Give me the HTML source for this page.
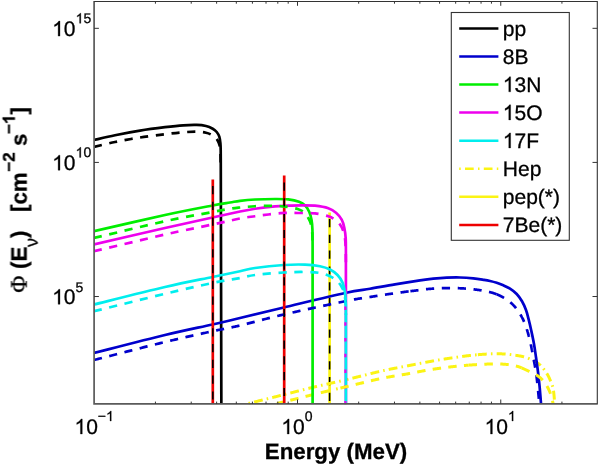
<!DOCTYPE html><html><head><meta charset="utf-8"><style>
html,body{margin:0;padding:0;background:#fff}
body{width:600px;height:464px;position:relative;overflow:hidden;font-family:"Liberation Sans",sans-serif;color:#000}
svg{will-change:transform}
</style></head><body>
<svg width="600" height="464" viewBox="0 0 600 464" style="position:absolute;left:0;top:0">
<defs><clipPath id="cp"><rect x="94.1" y="1.5" width="503.2" height="403.1"/></clipPath></defs>
<g clip-path="url(#cp)" fill="none" stroke-width="2.7" stroke-linejoin="round">
<path d="M329.6 212.5 V403.8" stroke="#fbf414"/>
<path d="M329.6 219 V403.8" stroke="#000" stroke-width="1.6" stroke-dasharray="8.2 7.6"/>
<path d="M277.00 403.50 L277.23 403.44 L277.48 403.38 L277.75 403.32 L278.04 403.25 L278.35 403.17 L278.68 403.09 L279.03 403.01 L279.39 402.92 L279.77 402.83 L280.17 402.73 L280.58 402.63 L281.00 402.53 L281.43 402.43 L281.88 402.32 L282.33 402.21 L282.80 402.10 L283.27 401.98 L283.75 401.87 L284.24 401.75 L284.73 401.63 L285.23 401.51 L285.73 401.39 L286.23 401.27 L286.74 401.15 L287.24 401.02 L287.75 400.90 L288.25 400.78 L288.76 400.66 L289.26 400.53 L289.75 400.41 L290.24 400.29 L290.73 400.18 L291.21 400.06 L291.68 399.94 L292.14 399.83 L292.60 399.72 L293.04 399.61 L293.47 399.50 L293.89 399.40 L294.30 399.30 L294.70 399.20 L295.09 399.10 L295.49 399.01 L295.88 398.91 L296.26 398.81 L296.65 398.72 L297.03 398.62 L297.41 398.53 L297.78 398.43 L298.16 398.34 L298.53 398.24 L298.90 398.15 L299.27 398.06 L299.64 397.96 L300.00 397.87 L300.37 397.78 L300.73 397.69 L301.09 397.60 L301.45 397.50 L301.81 397.41 L302.17 397.32 L302.53 397.23 L302.89 397.14 L303.24 397.05 L303.60 396.96 L303.96 396.87 L304.32 396.78 L304.67 396.69 L305.03 396.60 L305.39 396.51 L305.74 396.42 L306.10 396.33 L306.46 396.24 L306.82 396.14 L307.18 396.05 L307.54 395.96 L307.90 395.87 L308.27 395.78 L308.63 395.69 L309.00 395.60 L309.37 395.51 L309.73 395.42 L310.09 395.33 L310.44 395.24 L310.79 395.15 L311.14 395.07 L311.49 394.98 L311.83 394.90 L312.18 394.81 L312.52 394.73 L312.86 394.64 L313.20 394.56 L313.54 394.47 L313.88 394.39 L314.22 394.30 L314.56 394.22 L314.90 394.14 L315.25 394.05 L315.59 393.97 L315.94 393.88 L316.29 393.80 L316.64 393.71 L316.99 393.62 L317.34 393.54 L317.70 393.45 L318.07 393.36 L318.43 393.27 L318.80 393.18 L319.18 393.09 L319.56 393.00 L319.95 392.90 L320.34 392.81 L320.73 392.71 L321.14 392.61 L321.55 392.52 L321.96 392.42 L322.39 392.31 L322.82 392.21 L323.25 392.11 L323.70 392.00 L324.16 391.89 L324.62 391.78 L325.10 391.67 L325.59 391.55 L326.09 391.43 L326.60 391.31 L327.11 391.19 L327.64 391.07 L328.17 390.94 L328.71 390.82 L329.25 390.69 L329.80 390.56 L330.36 390.43 L330.92 390.30 L331.48 390.17 L332.05 390.03 L332.62 389.90 L333.19 389.77 L333.76 389.63 L334.33 389.50 L334.90 389.37 L335.48 389.23 L336.05 389.10 L336.62 388.97 L337.18 388.83 L337.75 388.70" stroke="#fbf414" stroke-width="3" stroke-dasharray="6.43 7.26 8.44 7.27 8.45 7.27 8.44 7.26 8.57 2000.00"/>
<path d="M247.00 403.80 L247.15 403.76 L247.30 403.72 L247.47 403.68 L247.64 403.64 L247.83 403.59 L248.02 403.55 L248.23 403.50 L248.44 403.44 L248.66 403.39 L248.89 403.33 L249.12 403.27 L249.37 403.21 L249.62 403.15 L249.88 403.09 L250.14 403.02 L250.41 402.95 L250.69 402.88 L250.98 402.81 L251.27 402.74 L251.56 402.67 L251.86 402.59 L252.17 402.52 L252.48 402.44 L252.80 402.36 L253.12 402.28 L253.44 402.20 L253.77 402.12 L254.11 402.04 L254.44 401.96 L254.78 401.87 L255.12 401.79 L255.47 401.70 L255.82 401.61 L256.17 401.53 L256.52 401.44 L256.87 401.35 L257.23 401.27 L257.58 401.18 L257.94 401.09 L258.30 401.00 L258.66 400.91 L259.03 400.82 L259.41 400.73 L259.79 400.63 L260.17 400.54 L260.57 400.44 L260.97 400.34 L261.37 400.24 L261.78 400.14 L262.19 400.04 L262.61 399.94 L263.03 399.83 L263.46 399.73 L263.89 399.62 L264.33 399.51 L264.76 399.41 L265.20 399.30 L265.65 399.19 L266.09 399.08 L266.54 398.97 L267.00 398.86 L267.45 398.75 L267.90 398.63 L268.36 398.52 L268.82 398.41 L269.28 398.29 L269.74 398.18 L270.20 398.07 L270.66 397.95 L271.12 397.84 L271.58 397.72 L272.05 397.61 L272.51 397.50 L272.97 397.38 L273.43 397.27 L273.88 397.15 L274.34 397.04 L274.80 396.93 L275.25 396.81 L275.70 396.70 L276.15 396.59 L276.60 396.47 L277.06 396.36 L277.51 396.25 L277.97 396.13 L278.42 396.02 L278.88 395.90 L279.34 395.79 L279.80 395.67 L280.26 395.55 L280.73 395.44 L281.19 395.32 L281.65 395.20 L282.12 395.08 L282.58 394.97 L283.05 394.85 L283.52 394.73 L283.98 394.61 L284.45 394.49 L284.92 394.38 L285.39 394.26 L285.86 394.14 L286.33 394.02 L286.80 393.90 L287.26 393.78 L287.73 393.66 L288.20 393.54 L288.67 393.42 L289.14 393.30 L289.61 393.18 L290.08 393.07 L290.55 392.95 L291.02 392.83 L291.49 392.71 L291.96 392.59 L292.43 392.47 L292.90 392.35 L293.37 392.24 L293.83 392.12 L294.30 392.00 L294.77 391.88 L295.23 391.76 L295.70 391.65 L296.17 391.53 L296.64 391.41 L297.12 391.29 L297.59 391.17 L298.06 391.05 L298.53 390.93 L299.01 390.81 L299.48 390.69 L299.96 390.56 L300.43 390.44 L300.91 390.32 L301.38 390.20 L301.85 390.08 L302.33 389.96 L302.80 389.84 L303.28 389.72 L303.75 389.60 L304.22 389.48 L304.70 389.36 L305.17 389.24 L305.64 389.12 L306.11 389.00 L306.58 388.89 L307.04 388.77 L307.51 388.65 L307.98 388.53 L308.44 388.42 L308.91 388.30 L309.37 388.19 L309.83 388.07 L310.29 387.96 L310.74 387.85 L311.20 387.74 L311.65 387.63 L312.10 387.52 L312.55 387.41 L313.00 387.30 L313.45 387.19 L313.89 387.09 L314.33 386.98 L314.78 386.88 L315.22 386.77 L315.66 386.67 L316.10 386.56 L316.54 386.46 L316.98 386.36 L317.42 386.26 L317.85 386.16 L318.29 386.06 L318.72 385.96 L319.16 385.86 L319.59 385.76 L320.02 385.66 L320.45 385.56 L320.88 385.46 L321.30 385.37 L321.73 385.27 L322.16 385.17 L322.58 385.08 L323.00 384.98 L323.43 384.89 L323.85 384.79 L324.27 384.70 L324.68 384.60 L325.10 384.51 L325.52 384.41 L325.93 384.32 L326.34 384.23 L326.76 384.14 L327.17 384.04 L327.57 383.95 L327.98 383.86 L328.39 383.77 L328.79 383.67 L329.20 383.58 L329.60 383.49 L330.00 383.40 L330.40 383.31 L330.80 383.22 L331.19 383.13 L331.58 383.04 L331.97 382.95 L332.36 382.87 L332.74 382.78 L333.13 382.69 L333.51 382.61 L333.89 382.52 L334.27 382.44 L334.65 382.35 L335.02 382.27 L335.40 382.18 L335.77 382.10 L336.14 382.02 L336.52 381.94 L336.89 381.85 L337.26 381.77 L337.62 381.69 L337.99 381.61 L338.36 381.52 L338.73 381.44 L339.10 381.36 L339.46 381.27 L339.83 381.19 L340.20 381.11 L340.56 381.03 L340.93 380.94 L341.30 380.86 L341.66 380.78 L342.03 380.69 L342.40 380.61 L342.77 380.52 L343.14 380.44 L343.51 380.35 L343.88 380.26 L344.25 380.18" stroke="#fbf414" stroke-width="3" stroke-dasharray="0.00 1.62 1.57 4.12 8.84 4.12 1.57 4.12 8.84 4.13 1.57 4.13 8.84 4.13 1.57 4.12 8.84 4.12 1.57 4.12 8.83 4.12 1.57 2000.00"/>
<path d="M344.63 380.09 L345.00 380.00 L345.37 379.91 L345.74 379.82 L346.10 379.74 L346.46 379.65 L346.82 379.57 L347.17 379.48 L347.52 379.40 L347.87 379.31 L348.21 379.23 L348.56 379.14 L348.90 379.06 L349.24 378.98 L349.58 378.89 L349.92 378.81 L350.26 378.72 L350.60 378.64 L350.94 378.55 L351.29 378.47 L351.63 378.38 L351.98 378.29 L352.33 378.21 L352.69 378.12 L353.04 378.03 L353.40 377.94 L353.77 377.85 L354.14 377.75 L354.51 377.66 L354.89 377.57 L355.28 377.47 L355.67 377.37 L356.06 377.27 L356.47 377.17 L356.88 377.07 L357.30 376.97 L357.73 376.86 L358.16 376.75 L358.61 376.64 L359.06 376.53 L359.53 376.42 L360.00 376.30 L360.48 376.18 L360.98 376.06 L361.48 375.93 L361.99 375.81 L362.51 375.68 L363.04 375.54 L363.58 375.41 L364.13 375.27 L364.68 375.13 L365.24 374.99 L365.80 374.85 L366.38 374.70 L366.95 374.56 L367.54 374.41 L368.13 374.26 L368.72 374.11 L369.31 373.96 L369.91 373.81 L370.52 373.66 L371.12 373.51 L371.73 373.35 L372.35 373.20 L372.96 373.05 L373.57 372.90 L374.19 372.74 L374.81 372.59 L375.42 372.44 L376.04 372.29 L376.66 372.14 L377.27 371.99 L377.89 371.85 L378.50 371.70 L379.11 371.56 L379.72 371.41 L380.33 371.27 L380.93 371.13 L381.53 371.00 L382.12 370.86 L382.71 370.73 L383.30 370.60 L383.88 370.47 L384.47 370.35 L385.05 370.22 L385.64 370.10 L386.22 369.97 L386.81 369.85 L387.39 369.73 L387.98 369.61 L388.56 369.49 L389.15 369.37 L389.73 369.25 L390.32 369.14 L390.90 369.02 L391.49 368.90 L392.07 368.79 L392.66 368.68 L393.24 368.56 L393.83 368.45 L394.41 368.34 L395.00 368.23 L395.59 368.11 L396.17 368.00 L396.76 367.89 L397.34 367.78 L397.93 367.67 L398.51 367.56 L399.10 367.45 L399.68 367.34 L400.27 367.23 L400.85 367.12 L401.44 367.01 L402.02 366.90 L402.61 366.79 L403.19 366.67 L403.78 366.56 L404.36 366.45 L404.95 366.34 L405.53 366.23 L406.12 366.11 L406.70 366.00 L407.28 365.89 L407.87 365.77 L408.45 365.66 L409.03 365.54 L409.62 365.43 L410.20 365.31 L410.78 365.20 L411.37 365.08 L411.95 364.97 L412.53 364.85 L413.11 364.74 L413.70 364.62 L414.28 364.51 L414.86 364.39 L415.44 364.27 L416.03 364.16 L416.61 364.04 L417.19 363.93 L417.77 363.81 L418.36 363.70 L418.94 363.59 L419.52 363.47 L420.10 363.36 L420.68 363.24 L421.27 363.13 L421.85 363.02 L422.43 362.91 L423.01 362.80 L423.60 362.68 L424.18 362.57 L424.76 362.46 L425.34 362.35 L425.92 362.24 L426.51 362.14 L427.09 362.03 L427.67 361.92 L428.25 361.81 L428.84 361.71 L429.42 361.60 L430.00 361.50 L430.58 361.40 L431.16 361.29 L431.75 361.19 L432.33 361.09 L432.91 360.99 L433.49 360.88 L434.08 360.78 L434.66 360.68 L435.24 360.58 L435.82 360.48 L436.40 360.38 L436.99 360.28 L437.57 360.18 L438.15 360.08 L438.73 359.98 L439.32 359.89 L439.90 359.79 L440.48 359.69 L441.06 359.60 L441.64 359.50 L442.23 359.40 L442.81 359.31 L443.39 359.22 L443.97 359.12 L444.56 359.03 L445.14 358.94 L445.72 358.84 L446.30 358.75 L446.89 358.66 L447.47 358.57 L448.05 358.48 L448.63 358.39 L449.22 358.30 L449.80 358.21 L450.38 358.13 L450.97 358.04 L451.55 357.95 L452.13 357.87 L452.72 357.78 L453.30 357.70 L453.88 357.62 L454.47 357.53 L455.05 357.45 L455.64 357.37 L456.22 357.28 L456.81 357.20 L457.39 357.11 L457.98 357.03 L458.56 356.95 L459.15 356.87 L459.73 356.79 L460.32 356.70 L460.90 356.62 L461.49 356.54 L462.07 356.46 L462.66 356.38 L463.24 356.31 L463.83 356.23 L464.41 356.15 L465.00 356.08 L465.59 356.00 L466.17 355.93 L466.76 355.85 L467.34 355.78 L467.93 355.71 L468.51 355.64 L469.10 355.57 L469.68 355.50 L470.27 355.44 L470.85 355.37 L471.44 355.31 L472.02 355.24 L472.61 355.18 L473.19 355.12 L473.78 355.07 L474.36 355.01 L474.95 354.95 L475.53 354.90 L476.12 354.85 L476.70 354.80 L477.28 354.75 L477.87 354.70" stroke="#fbf414" stroke-width="3" stroke-dasharray="0.00 2.36 1.57 4.12 8.84 4.12 1.57 4.13 8.84 4.12 1.57 4.12 8.83 4.12 1.57 4.12 8.83 4.12 1.57 4.12 8.83 4.12 1.57 4.12 8.84 4.13 1.57 4.13 8.85 4.14 1.58 2000.00"/>
<path d="M477.87 354.70 L478.46 354.66 L479.05 354.61 L479.64 354.56 L480.23 354.52 L480.83 354.47 L481.42 354.43 L482.01 354.38 L482.61 354.34 L483.21 354.30 L483.80 354.26 L484.40 354.22 L484.99 354.18 L485.59 354.15 L486.19 354.11 L486.78 354.08 L487.38 354.04 L487.97 354.01 L488.56 353.98 L489.15 353.95 L489.75 353.93 L490.33 353.90 L490.92 353.88 L491.51 353.86 L492.09 353.84 L492.68 353.82 L493.26 353.80 L493.83 353.79 L494.41 353.78 L494.98 353.77 L495.55 353.76 L496.12 353.76 L496.68 353.76 L497.25 353.76 L497.80 353.76 L498.36 353.77 L498.91 353.78 L499.46 353.79 L500.00 353.80 L500.54 353.82 L501.09 353.84 L501.63 353.86 L502.18 353.89 L502.72 353.91 L503.27 353.95 L503.81 353.98 L504.36 354.02 L504.91 354.06 L505.45 354.10 L505.99 354.14 L506.54 354.19 L507.08 354.24 L507.61 354.29 L508.15 354.34 L508.68 354.40 L509.21 354.45 L509.74 354.51 L510.27 354.57 L510.79 354.63 L511.30 354.69 L511.82 354.76 L512.32 354.82 L512.83 354.89 L513.33 354.95 L513.82 355.02 L514.31 355.09 L514.79 355.16 L515.26 355.23 L515.73 355.30 L516.19 355.37 L516.65 355.44 L517.10 355.51 L517.54 355.58 L517.97 355.65 L518.39 355.72 L518.81 355.79 L519.21 355.86 L519.61 355.93 L520.00 356.00 L520.38 356.07 L520.75 356.14 L521.10 356.21 L521.45 356.28 L521.79 356.34 L522.12 356.41 L522.44 356.48 L522.76 356.55 L523.06 356.62 L523.36 356.69 L523.65 356.76 L523.94 356.84 L524.22 356.91 L524.49 356.98 L524.76 357.06 L525.02 357.13 L525.27 357.21 L525.53 357.28 L525.77 357.36 L526.02 357.44 L526.26 357.52 L526.50 357.60 L526.73 357.68 L526.97 357.76 L527.20 357.85 L527.43 357.93 L527.66 358.02 L527.89 358.11 L528.11 358.20 L528.34 358.29 L528.57 358.38 L528.80 358.48 L529.03 358.57 L529.26 358.67 L529.49 358.77 L529.73 358.87 L529.97 358.98 L530.21 359.08 L530.45 359.19 L530.70 359.30 L530.95 359.41 L531.20 359.52 L531.45 359.64 L531.70 359.75 L531.95 359.87 L532.20 359.99 L532.44 360.11 L532.69 360.23 L532.94 360.35 L533.18 360.47 L533.43 360.60 L533.67 360.72 L533.92 360.85 L534.16 360.98 L534.40 361.11 L534.65 361.24 L534.89 361.37 L535.13 361.51 L535.36 361.64 L535.60 361.78 L535.84 361.92 L536.07 362.06 L536.30 362.20 L536.53 362.35 L536.76 362.49 L536.99 362.64 L537.22 362.79 L537.45 362.94 L537.67 363.09 L537.89 363.25 L538.11 363.41 L538.33 363.56 L538.55 363.72 L538.76 363.89 L538.97 364.05 L539.18 364.22 L539.39 364.38 L539.60 364.55 L539.80 364.73 L540.00 364.90 L540.20 365.08 L540.40 365.26 L540.59 365.44 L540.79 365.63 L540.98 365.82 L541.17 366.01 L541.36 366.21 L541.55 366.41 L541.74 366.61 L541.92 366.81 L542.10 367.02 L542.29 367.23 L542.47 367.44 L542.64 367.65 L542.82 367.86 L543.00 368.08 L543.17 368.29 L543.34 368.51 L543.51 368.73 L543.68 368.95 L543.85 369.17 L544.01 369.39 L544.18 369.61 L544.34 369.83 L544.50 370.06 L544.66 370.28 L544.82 370.50 L544.97 370.72 L545.12 370.94 L545.28 371.16 L545.43 371.38 L545.57 371.60 L545.72 371.82 L545.87 372.03 L546.01 372.25 L546.15 372.46 L546.29 372.68 L546.43 372.89 L546.57 373.09 L546.70 373.30 L546.83 373.50 L546.96 373.71 L547.09 373.91 L547.22 374.12 L547.34 374.32 L547.46 374.52 L547.58 374.72 L547.70 374.93 L547.81 375.13 L547.92 375.33 L548.03 375.53 L548.14 375.73 L548.25 375.93 L548.36 376.13 L548.46 376.33 L548.56 376.53 L548.66 376.73 L548.76 376.93 L548.86 377.13 L548.96 377.33 L549.05 377.52 L549.15 377.72 L549.24 377.92 L549.33 378.12 L549.42 378.32 L549.51 378.52 L549.60 378.71 L549.69 378.91 L549.78 379.11 L549.86 379.31 L549.95 379.51 L550.03 379.71 L550.12 379.91 L550.20 380.10 L550.29 380.30 L550.37 380.50 L550.45 380.70 L550.53 380.90 L550.62 381.10 L550.70 381.30 L550.78 381.50 L550.86 381.69 L550.94 381.88 L551.02 382.07 L551.10 382.26 L551.18 382.44 L551.25 382.62 L551.33 382.80 L551.40 382.98 L551.48 383.15 L551.55 383.33 L551.62 383.50 L551.69 383.68 L551.76 383.85 L551.83 384.03 L551.90 384.20 L551.97 384.38 L552.03 384.55 L552.10 384.73 L552.16 384.91 L552.23 385.09 L552.29 385.28 L552.35 385.46 L552.41 385.65 L552.47 385.85 L552.53 386.04 L552.59 386.24 L552.65 386.44 L552.71 386.65 L552.77 386.86 L552.82 387.08 L552.88 387.30 L552.93 387.53 L552.99 387.76 L553.04 388.00 L553.09 388.25 L553.15 388.50 L553.20 388.76 L553.25 389.03 L553.30 389.30 L553.35 389.59 L553.40 389.89 L553.45 390.20 L553.49 390.53 L553.54 390.88 L553.59 391.23 L553.63 391.60 L553.68 391.97 L553.72 392.35 L553.77 392.75 L553.81 393.15 L553.85 393.55 L553.89 393.96 L553.93 394.38 L553.97 394.79 L554.01 395.22 L554.05 395.64 L554.09 396.06 L554.13 396.48 L554.16 396.90 L554.20 397.32 L554.23 397.73 L554.27 398.14 L554.30 398.54 L554.33 398.94 L554.36 399.33 L554.39 399.72 L554.42 400.09 L554.45 400.45 L554.48 400.80 L554.50 401.14 L554.53 401.47 L554.55 401.78 L554.58 402.08 L554.60 402.36 L554.62 402.63 L554.64 402.87 L554.66 403.10 L554.68 403.31 L554.70 403.50" stroke="#fbf414" stroke-width="3" stroke-dasharray="8.90 4.17 1.59 4.19 8.94 4.14 1.57 4.13 8.83 4.15 1.60 4.18 8.93 4.19 1.59 4.16 8.94 4.19 1.58 4.12 8.87 4.15 1.60 2000.00"/>
<path d="M94.00 140.00 C97.50 139.20 107.33 136.77 115.00 135.20 C122.67 133.63 131.67 131.93 140.00 130.60 C148.33 129.27 157.78 128.08 165.00 127.20 C172.22 126.32 178.02 125.68 183.30 125.30 C188.58 124.92 192.92 124.78 196.70 124.90 C200.48 125.02 203.33 125.37 206.00 126.00 C208.67 126.63 210.92 127.70 212.70 128.70 C214.48 129.70 215.60 130.67 216.70 132.00 C217.80 133.33 218.68 134.82 219.30 136.70 C219.92 138.58 220.17 141.08 220.40 143.30 C220.63 145.52 220.63 145.55 220.70 150.00 C220.77 154.45 220.78 166.67 220.80 170.00 L221.35 403.8" stroke="#000"/>
<path d="M94.00 353.00 C105.83 350.00 145.25 339.75 165.00 335.00 C184.75 330.25 200.00 327.33 212.50 324.50 C225.00 321.67 228.12 320.83 240.00 318.00 C251.88 315.17 266.25 311.67 283.75 307.50 C301.25 303.33 330.62 296.12 345.00 293.00 C359.38 289.88 361.67 290.20 370.00 288.75 C378.33 287.30 386.67 285.69 395.00 284.30 C403.33 282.91 413.62 281.33 420.00 280.40 C426.38 279.47 428.85 279.15 433.30 278.70 C437.75 278.25 442.25 277.90 446.70 277.70 C451.15 277.50 455.57 277.38 460.00 277.50 C464.43 277.62 469.30 278.00 473.30 278.40 C477.30 278.80 481.22 279.47 484.00 279.90 C486.78 280.33 487.88 280.52 490.00 281.00 C492.12 281.48 494.48 282.08 496.70 282.80 C498.92 283.52 501.08 284.32 503.30 285.30 C505.52 286.28 507.77 287.25 510.00 288.70 C512.23 290.15 514.70 291.90 516.70 294.00 C518.70 296.10 520.45 298.63 522.00 301.30 C523.55 303.97 524.88 306.95 526.00 310.00 C527.12 313.05 527.82 316.15 528.70 319.60 C529.58 323.05 530.42 326.63 531.30 330.70 C532.18 334.77 533.22 339.57 534.00 344.00 C534.78 348.43 535.33 352.63 536.00 357.30 C536.67 361.97 537.40 367.10 538.00 372.00 C538.60 376.90 539.10 381.45 539.60 386.70 C540.10 391.95 540.77 400.70 541.00 403.50" stroke="#0000cc"/>
<path d="M94.00 231.25 C105.83 228.54 145.25 219.29 165.00 215.00 C184.75 210.71 201.67 207.58 212.50 205.50 C223.33 203.42 225.42 203.28 230.00 202.50 C234.58 201.72 235.83 201.30 240.00 200.80 C244.17 200.30 249.17 199.80 255.00 199.50 C260.83 199.20 269.45 199.02 275.00 199.00 C280.55 198.98 284.30 198.95 288.30 199.40 C292.30 199.85 296.15 200.65 299.00 201.70 C301.85 202.75 303.70 204.03 305.40 205.70 C307.10 207.37 308.18 209.37 309.20 211.70 C310.22 214.03 310.97 216.82 311.50 219.70 C312.03 222.58 312.22 224.78 312.40 229.00 C312.58 233.22 312.57 242.33 312.60 245.00 L312.60 403.80" stroke="#00ee00"/>
<path d="M94.00 244.50 C105.83 241.75 145.25 232.50 165.00 228.00 C184.75 223.50 200.00 220.25 212.50 217.50 C225.00 214.75 232.92 212.96 240.00 211.50 C247.08 210.04 249.17 209.62 255.00 208.75 C260.83 207.88 269.45 206.81 275.00 206.30 C280.55 205.79 283.85 205.87 288.30 205.70 C292.75 205.53 297.25 205.30 301.70 205.30 C306.15 205.30 310.57 205.20 315.00 205.70 C319.43 206.20 324.75 207.08 328.30 208.30 C331.85 209.52 334.07 211.10 336.30 213.00 C338.53 214.90 340.37 217.25 341.70 219.70 C343.03 222.15 343.63 224.60 344.30 227.70 C344.97 230.80 345.43 233.75 345.70 238.30 C345.97 242.85 345.87 252.22 345.90 255.00 L345.90 403.80" stroke="#ee00ee"/>
<path d="M94.00 304.50 C105.83 301.58 145.25 291.58 165.00 287.00 C184.75 282.42 200.00 279.62 212.50 277.00 C225.00 274.38 232.92 272.75 240.00 271.25 C247.08 269.75 247.71 269.04 255.00 268.00 C262.29 266.96 275.42 265.57 283.75 265.00 C292.08 264.43 298.96 264.39 305.00 264.60 C311.04 264.81 315.83 265.43 320.00 266.25 C324.17 267.07 327.08 268.04 330.00 269.50 C332.92 270.96 335.42 272.83 337.50 275.00 C339.58 277.17 341.25 279.58 342.50 282.50 C343.75 285.42 344.43 288.75 345.00 292.50 C345.57 296.25 345.75 302.92 345.90 305.00 L345.90 403.80" stroke="#00eeee"/>
<path d="M212.8 179.5 V403.8" stroke="#ee0000"/>
<path d="M284.2 175.5 V403.8" stroke="#ee0000"/>
<path d="M94.00 147.00 C97.50 146.17 107.33 143.58 115.00 142.00 C122.67 140.42 131.67 138.80 140.00 137.50 C148.33 136.20 157.78 135.07 165.00 134.20 C172.22 133.33 178.02 132.72 183.30 132.30 C188.58 131.88 192.92 131.63 196.70 131.70 C200.48 131.77 203.57 132.20 206.00 132.70 C208.43 133.20 209.63 133.82 211.30 134.70 C212.97 135.58 214.77 136.67 216.00 138.00 C217.23 139.33 218.03 141.15 218.70 142.70 C219.37 144.25 219.70 145.58 220.00 147.30 C220.30 149.02 220.37 149.22 220.50 153.00 C220.63 156.78 220.75 167.17 220.80 170.00" stroke="#000" stroke-dasharray="8.15 7.56 8.14 7.55 8.14 7.56 8.15 7.57 8.16 7.58 8.18 7.60 8.24 7.63 8.19 7.64 8.22 7.61 8.27 7.68 8.30 2000.00"/>
<path d="M94.00 360.00 L94.94 359.76 L95.98 359.50 L97.11 359.21 L98.33 358.90 L99.64 358.56 L101.03 358.21 L102.49 357.83 L104.03 357.44 L105.64 357.02 L107.31 356.60 L109.04 356.15 L110.82 355.69 L112.66 355.22 L114.54 354.74 L116.46 354.25 L118.42 353.75 L120.41 353.24 L122.43 352.72 L124.47 352.20 L126.53 351.67 L128.61 351.14 L130.70 350.61 L132.79 350.08 L134.88 349.54 L136.98 349.01 L139.06 348.48 L141.13 347.95 L143.19 347.43 L145.23 346.92 L147.24 346.41 L149.22 345.91 L151.17 345.42 L153.08 344.95 L154.94 344.48 L156.76 344.03 L158.53 343.59 L160.24 343.16 L161.90 342.76 L163.48 342.37 L165.00 342.00 L166.47 341.64 L167.93 341.29 L169.37 340.95 L170.79 340.61 L172.20 340.28 L173.59 339.95 L174.96 339.62 L176.32 339.31 L177.67 338.99 L179.00 338.69 L180.31 338.38 L181.61 338.08 L182.89 337.79 L184.16 337.50 L185.41 337.22 L186.65 336.94 L187.88 336.66 L189.09 336.39 L190.29 336.12 L191.47 335.86 L192.64 335.60 L193.79 335.34 L194.94 335.09 L196.07 334.84 L197.19 334.60 L198.29 334.35 L199.38 334.12 L200.46 333.88 L201.53 333.65 L202.58 333.42 L203.62 333.19 L204.66 332.96 L205.68 332.74 L206.68 332.52 L207.68 332.30 L208.67 332.09 L209.64 331.88 L210.60 331.67 L211.56 331.46 L212.50 331.25 L213.42 331.05 L214.31 330.86 L215.16 330.67 L215.99 330.50 L216.78 330.33 L217.55 330.17 L218.30 330.01 L219.02 329.86 L219.72 329.72 L220.40 329.58 L221.06 329.45 L221.71 329.32 L222.34 329.20 L222.96 329.08 L223.56 328.96 L224.16 328.84 L224.75 328.73 L225.33 328.61 L225.91 328.50 L226.48 328.39 L227.06 328.28 L227.63 328.17 L228.21 328.05 L228.79 327.94 L229.38 327.82 L229.97 327.70 L230.57 327.58 L231.19 327.45 L231.81 327.32 L232.45 327.19 L233.11 327.05 L233.78 326.91 L234.47 326.76 L235.19 326.60 L235.92 326.44 L236.68 326.27 L237.47 326.09 L238.28 325.90 L239.13 325.70 L240.00 325.50 L240.90 325.29 L241.80 325.07 L242.71 324.85 L243.64 324.62 L244.57 324.39 L245.51 324.16 L246.47 323.92 L247.43 323.67 L248.40 323.42 L249.38 323.17 L250.38 322.92 L251.38 322.66 L252.39 322.39 L253.41 322.13 L254.45 321.86 L255.49 321.59 L256.54 321.31 L257.61 321.03 L258.68 320.75 L259.77 320.47 L260.86 320.18 L261.97 319.90 L263.08 319.61 L264.21 319.31 L265.35 319.02 L266.50 318.73 L267.66 318.43 L268.83 318.13 L270.01 317.83 L271.20 317.53 L272.40 317.23 L273.62 316.93 L274.85 316.63 L276.08 316.32 L277.33 316.02 L278.59 315.71 L279.86 315.41 L281.15 315.11 L282.44 314.80 L283.75 314.50 L285.08 314.19 L286.46 313.88 L287.88 313.56 L289.33 313.23 L290.82 312.89 L292.34 312.55 L293.88 312.20 L295.46 311.85 L297.06 311.49 L298.68 311.13 L300.32 310.77 L301.98 310.41 L303.65 310.04 L305.34 309.67 L307.03 309.30 L308.73 308.93 L310.43 308.56 L312.14 308.19 L313.85 307.82 L315.55 307.45 L317.24 307.09 L318.93 306.73 L320.61 306.37 L322.27 306.01 L323.92 305.66 L325.55 305.31 L327.15 304.97 L328.74 304.63 L330.30 304.30 L331.83 303.98 L333.32 303.67 L334.79 303.36 L336.22 303.06 L337.61 302.77 L338.96 302.49 L340.26 302.22 L341.52 301.96 L342.73 301.71 L343.89 301.47 L345.00 301.25 L346.06 301.04 L347.07 300.83 L348.04 300.64 L348.97 300.46 L349.86 300.29 L350.71 300.12 L351.53 299.96 L352.32 299.82 L353.07 299.68 L353.80 299.54 L354.49 299.42 L355.16 299.30 L355.81 299.19 L356.43 299.08 L357.03 298.98 L357.61 298.88 L358.17 298.79 L358.72 298.70 L359.25 298.62 L359.77 298.53 L360.27 298.46 L360.77 298.38 L361.26 298.31 L361.74 298.24 L362.22 298.17 L362.69 298.10 L363.17 298.03 L363.64 297.96 L364.12 297.89 L364.60 297.82 L365.09 297.75 L365.58 297.68 L366.08 297.60 L366.60 297.53 L367.12 297.45 L367.66 297.37 L368.22 297.28 L368.79 297.19 L369.39 297.10 L370.00 297.00 L370.62 296.90 L371.25 296.80 L371.88 296.70 L372.50 296.60 L373.12 296.50 L373.75 296.40 L374.38 296.30 L375.00 296.20 L375.63 296.10 L376.25 296.00 L376.88 295.91 L377.50 295.81 L378.13 295.71 L378.75 295.61 L379.38 295.52 L380.00 295.42 L380.62 295.32 L381.25 295.23 L381.88 295.13 L382.50 295.03 L383.12 294.94 L383.75 294.84 L384.38 294.75 L385.00 294.66 L385.62 294.56 L386.25 294.47 L386.88 294.37 L387.50 294.28 L388.12 294.19 L388.75 294.10 L389.38 294.01 L390.00 293.91 L390.62 293.82 L391.25 293.73 L391.88 293.64 L392.50 293.55 L393.12 293.46 L393.75 293.38 L394.38 293.29 L395.00 293.20 L395.63 293.11 L396.27 293.02 L396.91 292.94 L397.56 292.85 L398.22 292.76 L398.89 292.67 L399.56 292.58 L400.23 292.49 L400.91 292.40 L401.59 292.31 L402.27 292.22 L402.95 292.13 L403.63 292.04 L404.32 291.96 L405.00 291.87 L405.69 291.78 L406.37 291.69 L407.05 291.61 L407.72 291.52 L408.39 291.44 L409.06 291.35 L409.72 291.27 L410.38 291.19" stroke="#0000cc" stroke-dasharray="8.15 7.56 8.15 7.56 8.15 7.56 8.15 7.56 8.15 7.56 8.15 7.56 8.14 7.55 8.14 7.55 8.14 7.55 8.14 7.56 8.15 7.57 8.15 7.56 8.15 7.56 8.14 7.55 8.14 7.55 8.14 7.55 8.14 7.55 8.15 7.56 8.15 7.56 8.15 7.57 8.16 2000.00"/>
<path d="M410.38 291.19 L411.03 291.11 L411.67 291.03 L412.31 290.95 L412.93 290.87 L413.55 290.79 L414.16 290.72 L414.76 290.65 L415.34 290.57 L415.92 290.50 L416.48 290.43 L417.02 290.37 L417.56 290.30 L418.08 290.24 L418.58 290.17 L419.07 290.11 L419.54 290.06 L420.00 290.00 L420.44 289.95 L420.85 289.89 L421.25 289.84 L421.63 289.80 L421.99 289.75 L422.33 289.71 L422.66 289.66 L422.97 289.62 L423.27 289.59 L423.56 289.55 L423.83 289.51 L424.09 289.48 L424.35 289.44 L424.59 289.41 L424.83 289.38 L425.06 289.35 L425.28 289.32 L425.49 289.30 L425.70 289.27 L425.91 289.24 L426.12 289.22 L426.32 289.19 L426.52 289.17 L426.72 289.15 L426.93 289.13 L427.13 289.10 L427.34 289.08 L427.55 289.06 L427.77 289.04 L427.99 289.02 L428.21 289.00 L428.45 288.98 L428.69 288.95 L428.94 288.93 L429.21 288.91 L429.48 288.89 L429.76 288.87 L430.06 288.85 L430.37 288.82 L430.70 288.80 L431.04 288.78 L431.38 288.75 L431.73 288.73 L432.09 288.71 L432.45 288.68 L432.81 288.66 L433.18 288.64 L433.56 288.61 L433.94 288.59 L434.33 288.57 L434.72 288.54 L435.11 288.52 L435.51 288.50 L435.91 288.48 L436.31 288.46 L436.72 288.44 L437.13 288.42 L437.54 288.40 L437.95 288.38 L438.37 288.36 L438.79 288.34 L439.20 288.32 L439.62 288.30 L440.05 288.28 L440.47 288.27 L440.89 288.25 L441.31 288.24 L441.73 288.22 L442.15 288.21 L442.58 288.19 L443.00 288.18 L443.42 288.17 L443.83 288.16 L444.25 288.15 L444.66 288.14 L445.08 288.13 L445.49 288.12 L445.89 288.11 L446.30 288.11 L446.70 288.10 L447.10 288.10 L447.50 288.09 L447.90 288.09 L448.31 288.08 L448.71 288.08 L449.11 288.08 L449.52 288.08 L449.92 288.08 L450.33 288.08 L450.73 288.08 L451.14 288.08 L451.54 288.08 L451.95 288.08 L452.36 288.09 L452.76 288.09 L453.17 288.10 L453.57 288.10 L453.98 288.11 L454.38 288.11 L454.79 288.12 L455.19 288.13 L455.60 288.13 L456.00 288.14 L456.40 288.15 L456.80 288.16 L457.20 288.17 L457.60 288.19 L458.00 288.20 L458.40 288.21 L458.80 288.22 L459.19 288.24 L459.59 288.25 L459.98 288.27 L460.38 288.29 L460.77 288.30 L461.16 288.32 L461.54 288.34 L461.93 288.36 L462.32 288.38 L462.70 288.40 L463.08 288.42 L463.46 288.44 L463.85 288.47 L464.23 288.49 L464.61 288.52 L464.99 288.54 L465.37 288.57 L465.75 288.60 L466.13 288.62 L466.51 288.65 L466.89 288.68 L467.26 288.71 L467.64 288.75 L468.02 288.78 L468.39 288.81 L468.77 288.84 L469.14 288.88 L469.51 288.91 L469.88 288.95 L470.25 288.98 L470.62 289.02 L470.98 289.05 L471.35 289.09 L471.71 289.13 L472.08 289.17 L472.44 289.21 L472.80 289.25 L473.16 289.29 L473.51 289.33 L473.87 289.37 L474.22 289.41 L474.57 289.45 L474.92 289.49 L475.26 289.54 L475.61 289.58 L475.95 289.62 L476.29 289.67 L476.63 289.71 L476.97 289.76 L477.30 289.80 L477.63 289.85 L477.96 289.89 L478.30 289.94 L478.63 289.99 L478.96 290.04 L479.28 290.09 L479.61 290.14 L479.94 290.19 L480.27 290.24 L480.59 290.29 L480.91 290.34 L481.24 290.40 L481.56 290.45 L481.88 290.51 L482.19 290.56 L482.51 290.62 L482.82 290.67 L483.13 290.73 L483.44 290.79 L483.75 290.84 L484.06 290.90 L484.36 290.96 L484.66 291.02 L484.96 291.07 L485.25 291.13 L485.54 291.19 L485.83 291.25 L486.12 291.31 L486.40 291.37 L486.68 291.42 L486.96 291.48 L487.24 291.54 L487.51 291.60 L487.77 291.66 L488.04 291.71 L488.30 291.77 L488.55 291.83 L488.81 291.89 L489.06 291.94 L489.30 292.00 L489.54 292.06 L489.77 292.11 L490.00 292.17 L490.23 292.22 L490.45 292.28 L490.67 292.33 L490.88 292.39 L491.09 292.44 L491.29 292.49 L491.49 292.55 L491.69 292.60 L491.88 292.65 L492.07 292.71 L492.26 292.76 L492.45 292.82 L492.63 292.87 L492.81 292.92 L492.99 292.98 L493.16 293.03 L493.34 293.09 L493.51 293.14 L493.68 293.20 L493.85 293.25 L494.02 293.31 L494.19 293.37 L494.35 293.42 L494.52 293.48 L494.68 293.54 L494.85 293.60 L495.01 293.66 L495.18 293.72 L495.34 293.78 L495.51 293.84 L495.68 293.91 L495.84 293.97 L496.01 294.03 L496.18 294.10 L496.35 294.16 L496.53 294.23 L496.70 294.30" stroke="#0000cc" stroke-dasharray="8.16 7.57 8.20 7.64 8.27 7.68 8.23 7.59 8.16 7.55 8.20 2000.00"/>
<path d="M496.70 294.30 L496.87 294.37 L497.05 294.44 L497.22 294.51 L497.39 294.58 L497.56 294.65 L497.73 294.72 L497.90 294.79 L498.07 294.86 L498.24 294.93 L498.40 295.01 L498.57 295.08 L498.74 295.15 L498.90 295.23 L499.07 295.30 L499.23 295.38 L499.39 295.45 L499.56 295.53 L499.72 295.61 L499.88 295.68 L500.04 295.76 L500.21 295.84 L500.37 295.92 L500.53 296.00 L500.69 296.08 L500.85 296.17 L501.01 296.25 L501.18 296.33 L501.34 296.42 L501.50 296.50 L501.66 296.59 L501.82 296.67 L501.99 296.76 L502.15 296.85 L502.31 296.94 L502.48 297.03 L502.64 297.12 L502.80 297.22 L502.97 297.31 L503.13 297.40 L503.30 297.50 L503.47 297.60 L503.63 297.69 L503.80 297.79 L503.97 297.89 L504.14 297.99 L504.31 298.10 L504.48 298.20 L504.66 298.30 L504.83 298.41 L505.00 298.51 L505.17 298.62 L505.35 298.73 L505.52 298.84 L505.69 298.95 L505.87 299.06 L506.04 299.17 L506.21 299.28 L506.39 299.39 L506.56 299.51 L506.73 299.62 L506.90 299.73 L507.07 299.85 L507.25 299.96 L507.42 300.08 L507.59 300.20 L507.75 300.31 L507.92 300.43 L508.09 300.55 L508.26 300.67 L508.42 300.79 L508.59 300.91 L508.75 301.03 L508.91 301.15 L509.07 301.27 L509.23 301.39 L509.39 301.51 L509.54 301.63 L509.70 301.76 L509.85 301.88 L510.00 302.00 L510.15 302.12 L510.30 302.25 L510.44 302.37 L510.59 302.49 L510.73 302.61 L510.88 302.74 L511.02 302.86 L511.16 302.99 L511.30 303.11 L511.44 303.24 L511.58 303.36 L511.71 303.49 L511.85 303.61 L511.98 303.74 L512.12 303.87 L512.25 304.00 L512.38 304.12 L512.51 304.25 L512.64 304.38 L512.77 304.51 L512.90 304.64 L513.03 304.78 L513.16 304.91 L513.29 305.04 L513.42 305.17 L513.55 305.31 L513.67 305.45 L513.80 305.58 L513.92 305.72 L514.05 305.86 L514.18 306.00 L514.30 306.14 L514.43 306.28 L514.55 306.42 L514.68 306.57 L514.80 306.71 L514.93 306.86 L515.05 307.00 L515.18 307.15 L515.30 307.30 L515.43 307.45 L515.55 307.60 L515.68 307.76 L515.80 307.92 L515.93 308.08 L516.05 308.24 L516.18 308.40 L516.30 308.56 L516.43 308.73 L516.55 308.89 L516.67 309.06 L516.80 309.23 L516.92 309.40 L517.05 309.57 L517.17 309.74 L517.29 309.91 L517.41 310.09 L517.53 310.26 L517.65 310.43 L517.77 310.61 L517.89 310.78 L518.01 310.95 L518.13 311.13 L518.25 311.30 L518.37 311.48 L518.48 311.65 L518.60 311.82 L518.71 312.00 L518.83 312.17 L518.94 312.34 L519.05 312.51 L519.16 312.68 L519.27 312.85 L519.38 313.02 L519.48 313.19 L519.59 313.35 L519.69 313.52 L519.80 313.68 L519.90 313.84 L520.00 314.00 L520.10 314.16 L520.20 314.31 L520.29 314.46 L520.38 314.61 L520.47 314.75 L520.56 314.89 L520.65 315.03 L520.74 315.17 L520.82 315.31 L520.91 315.44 L520.99 315.57 L521.07 315.70 L521.15 315.83 L521.23 315.96 L521.31 316.09 L521.39 316.22 L521.46 316.36 L521.54 316.49 L521.62 316.62 L521.69 316.75 L521.77 316.88 L521.85 317.02 L521.92 317.16 L522.00 317.30 L522.07 317.44 L522.15 317.58 L522.23 317.73 L522.30 317.88 L522.38 318.03 L522.46 318.19 L522.54 318.35 L522.62 318.51 L522.70 318.68 L522.78 318.85 L522.86 319.03 L522.95 319.21 L523.03 319.40 L523.12 319.59 L523.21 319.79 L523.30 320.00 L523.39 320.21 L523.48 320.43 L523.58 320.64 L523.67 320.87 L523.77 321.09 L523.87 321.33 L523.97 321.56 L524.06 321.80 L524.16 322.04 L524.26 322.28 L524.37 322.53 L524.47 322.78 L524.57 323.04 L524.67 323.29 L524.78 323.55 L524.88 323.82 L524.98 324.08 L525.09 324.35 L525.19 324.62 L525.29 324.89 L525.40 325.17 L525.50 325.45 L525.61 325.73 L525.71 326.01 L525.81 326.29 L525.92 326.58 L526.02 326.86 L526.12 327.15 L526.22 327.44 L526.33 327.73 L526.43 328.02 L526.53 328.32 L526.63 328.61 L526.73 328.91 L526.82 329.21 L526.92 329.50 L527.02 329.80 L527.11 330.10 L527.21 330.40 L527.30 330.70 L527.39 331.00 L527.48 331.31 L527.58 331.61 L527.67 331.92 L527.76 332.24 L527.85 332.55 L527.94 332.87 L528.03 333.19 L528.12 333.52 L528.21 333.84 L528.30 334.17 L528.39 334.50 L528.48 334.83 L528.57 335.16 L528.65 335.50 L528.74 335.83 L528.83 336.17 L528.92 336.51 L529.00 336.85 L529.09 337.19 L529.17 337.53 L529.26 337.87 L529.34 338.21 L529.43 338.56 L529.51 338.90 L529.59 339.24 L529.68 339.58 L529.76 339.93 L529.84 340.27 L529.92 340.61 L530.00 340.96 L530.08 341.30 L530.16 341.64 L530.24 341.98 L530.32 342.32 L530.40 342.66 L530.47 343.00 L530.55 343.33 L530.62 343.67 L530.70 344.00 L530.77 344.33 L530.85 344.66 L530.92 344.99 L530.99 345.32 L531.06 345.65 L531.13 345.98 L531.20 346.30 L531.27 346.63 L531.34 346.96 L531.40 347.28 L531.47 347.61 L531.54 347.93 L531.60 348.25 L531.67 348.58 L531.73 348.90 L531.79 349.23 L531.86 349.55 L531.92 349.88 L531.98 350.20 L532.04 350.53 L532.11 350.86 L532.17 351.19 L532.23 351.51 L532.29 351.84 L532.35 352.17 L532.41 352.50 L532.48 352.84 L532.54 353.17 L532.60 353.51 L532.66 353.84 L532.72 354.18 L532.79 354.52 L532.85 354.86 L532.91 355.20 L532.98 355.55 L533.04 355.89 L533.10 356.24 L533.17 356.59 L533.23 356.94 L533.30 357.30 L533.37 357.66 L533.43 358.02 L533.50 358.38 L533.57 358.75 L533.64 359.12 L533.71 359.49 L533.78 359.86 L533.85 360.23 L533.92 360.61 L533.99 360.99 L534.06 361.37 L534.13 361.75 L534.21 362.13 L534.28 362.52 L534.35 362.90 L534.42 363.29 L534.49 363.68 L534.56 364.07 L534.64 364.45 L534.71 364.84 L534.78 365.23 L534.85 365.62 L534.92 366.01 L534.99 366.40 L535.06 366.79 L535.12 367.18 L535.19 367.57 L535.26 367.95 L535.33 368.34 L535.39 368.73 L535.46 369.11 L535.52 369.49 L535.59 369.88 L535.65 370.26 L535.71 370.63 L535.77 371.01 L535.83 371.39 L535.89 371.76 L535.94 372.13 L536.00 372.50 L536.05 372.87 L536.11 373.23 L536.16 373.59 L536.21 373.95 L536.26 374.31 L536.31 374.66 L536.36 375.01 L536.41 375.36 L536.45 375.71 L536.50 376.06 L536.54 376.41 L536.59 376.75 L536.63 377.10 L536.67 377.44 L536.72 377.78 L536.76 378.13 L536.80 378.47 L536.84 378.81 L536.88 379.16 L536.92 379.50 L536.96 379.84 L537.00 380.19 L537.04 380.53 L537.08 380.88 L537.11 381.23 L537.15 381.58 L537.19 381.93 L537.23 382.28 L537.27 382.63 L537.31 382.99 L537.34 383.35 L537.38 383.71 L537.42 384.07 L537.46 384.44 L537.50 384.81 L537.54 385.18 L537.58 385.55 L537.62 385.93 L537.66 386.31 L537.70 386.70 L537.74 387.09 L537.78 387.50 L537.83 387.92 L537.87 388.35 L537.92 388.79 L537.96 389.24 L538.01 389.70 L538.05 390.16 L538.10 390.63 L538.14 391.11 L538.19 391.59 L538.24 392.08 L538.28 392.57 L538.33 393.06 L538.38 393.55 L538.42 394.04 L538.47 394.53 L538.52 395.02 L538.56 395.50 L538.61 395.99 L538.65 396.47 L538.69 396.94 L538.74 397.41 L538.78 397.86 L538.82 398.32 L538.86 398.76 L538.90 399.19 L538.94 399.61 L538.98 400.02 L539.01 400.42 L539.05 400.80 L539.08 401.17 L539.12 401.53 L539.15 401.87 L539.18 402.19 L539.21 402.49 L539.23 402.77 L539.26 403.04 L539.28 403.28 L539.30 403.50" stroke="#0000cc" stroke-dasharray="8.24 7.64 8.27 7.63 8.24 7.65 8.17 7.56 8.14 7.55 8.14 7.56 8.17 7.59 8.18 2000.00"/>
<path d="M94.00 238.00 C105.83 235.21 145.25 225.58 165.00 221.25 C184.75 216.92 201.67 214.08 212.50 212.00 C223.33 209.92 225.42 209.50 230.00 208.75 C234.58 208.00 235.83 207.92 240.00 207.50 C244.17 207.08 250.00 206.52 255.00 206.25 C260.00 205.98 265.33 205.89 270.00 205.90 C274.67 205.91 278.38 205.78 283.00 206.30 C287.62 206.82 294.08 207.88 297.70 209.00 C301.32 210.12 302.90 211.45 304.70 213.00 C306.50 214.55 307.48 216.52 308.50 218.30 C309.52 220.08 310.18 221.42 310.80 223.70 C311.42 225.98 311.90 228.45 312.20 232.00 C312.50 235.55 312.53 242.83 312.60 245.00" stroke="#00ee00" stroke-dasharray="8.15 7.56 8.15 7.56 8.15 7.56 8.15 7.56 8.14 7.55 8.14 7.55 8.14 7.55 8.14 7.55 8.14 7.56 8.17 7.59 8.21 7.66 8.29 7.68 8.17 7.55 8.21 7.66 8.22 7.57 8.25 2000.00"/>
<path d="M94.00 251.25 C105.83 248.46 145.25 238.96 165.00 234.50 C184.75 230.04 200.00 227.17 212.50 224.50 C225.00 221.83 232.92 219.88 240.00 218.50 C247.08 217.12 248.28 217.13 255.00 216.25 C261.72 215.37 272.97 213.74 280.30 213.20 C287.63 212.66 293.22 212.97 299.00 213.00 C304.78 213.03 310.12 212.85 315.00 213.40 C319.88 213.95 324.97 215.25 328.30 216.30 C331.63 217.35 333.00 218.25 335.00 219.70 C337.00 221.15 338.97 223.23 340.30 225.00 C341.63 226.77 342.22 228.08 343.00 230.30 C343.78 232.52 344.55 235.02 345.00 238.30 C345.45 241.58 345.55 245.55 345.70 250.00 C345.85 254.45 345.87 262.50 345.90 265.00" stroke="#ee00ee" stroke-dasharray="8.15 7.56 8.15 7.56 8.15 7.56 8.15 7.56 8.14 7.55 8.14 7.55 8.14 7.55 8.14 7.55 8.14 7.55 8.14 7.56 8.16 7.57 8.16 7.58 8.23 7.68 8.29 7.68 8.18 7.56 8.22 7.66 8.25 7.57 8.21 7.66 8.28 2000.00"/>
<path d="M94.00 311.25 C105.83 308.33 145.25 298.46 165.00 293.75 C184.75 289.04 200.00 285.62 212.50 283.00 C225.00 280.38 232.92 279.33 240.00 278.00 C247.08 276.67 247.71 275.92 255.00 275.00 C262.29 274.08 275.42 273.00 283.75 272.50 C292.08 272.00 298.96 271.92 305.00 272.00 C311.04 272.08 315.83 272.29 320.00 273.00 C324.17 273.71 327.08 274.88 330.00 276.25 C332.92 277.62 335.50 279.38 337.50 281.25 C339.50 283.12 340.83 285.38 342.00 287.50 C343.17 289.62 343.88 291.08 344.50 294.00 C345.12 296.92 345.47 301.50 345.70 305.00 C345.93 308.50 345.87 313.33 345.90 315.00" stroke="#00eeee" stroke-dasharray="8.15 7.56 8.15 7.56 8.15 7.56 8.15 7.56 8.15 7.56 8.15 7.56 8.14 7.55 8.14 7.55 8.14 7.56 8.14 7.56 8.15 7.58 8.19 7.61 8.21 7.65 8.28 7.67 8.20 7.57 8.25 7.66 8.23 7.59 8.19 7.67 8.30 2000.00"/>
<path d="M345.4 306.5 V404.8" stroke="#ee00ee" stroke-width="2.2" stroke-dasharray="3.5 12.25"/>
<path d="M212.8 186 V403.8" stroke="#000" stroke-width="1.6" stroke-dasharray="8.2 7.6"/>
<path d="M284.2 182.5 V403.8" stroke="#000" stroke-width="1.6" stroke-dasharray="8.2 7.6"/>
<path d="M338.31 388.57 L338.87 388.44 L339.42 388.31 L339.96 388.18 L340.50 388.06 L341.04 387.93 L341.56 387.81 L342.08 387.69 L342.59 387.57 L343.10 387.45 L343.59 387.33 L344.07 387.22 L344.54 387.11 L345.00 387.00 L345.45 386.89 L345.88 386.79 L346.31 386.69 L346.72 386.59 L347.12 386.50 L347.51 386.40 L347.90 386.31 L348.27 386.22 L348.64 386.13 L349.00 386.04 L349.35 385.96 L349.70 385.87 L350.05 385.79 L350.39 385.71 L350.72 385.63 L351.06 385.55 L351.39 385.47 L351.72 385.38 L352.05 385.30 L352.38 385.22 L352.70 385.14 L353.04 385.06 L353.37 384.98 L353.70 384.90 L354.04 384.82 L354.39 384.74 L354.74 384.65 L355.09 384.57 L355.45 384.48 L355.81 384.39 L356.19 384.30 L356.57 384.21 L356.96 384.12 L357.36 384.02 L357.77 383.93 L358.19 383.83 L358.63 383.72 L359.07 383.62 L359.53 383.51 L360.00 383.40 L360.48 383.29 L360.98 383.17 L361.48 383.05 L361.99 382.93 L362.51 382.80 L363.04 382.67 L363.58 382.54 L364.13 382.41 L364.68 382.28 L365.24 382.14 L365.80 382.01 L366.38 381.87 L366.95 381.73 L367.54 381.59 L368.13 381.45 L368.72 381.30 L369.31 381.16 L369.91 381.01 L370.52 380.87 L371.12 380.73 L371.73 380.58 L372.35 380.43 L372.96 380.29 L373.57 380.15 L374.19 380.00 L374.81 379.86 L375.42 379.72 L376.04 379.57 L376.66 379.43 L377.27 379.29 L377.89 379.16 L378.50 379.02 L379.11 378.88 L379.72 378.75 L380.33 378.62 L380.93 378.49 L381.53 378.36 L382.12 378.24 L382.71 378.12 L383.30 378.00 L383.88 377.88 L384.47 377.77 L385.05 377.66 L385.64 377.54 L386.22 377.44 L386.81 377.33 L387.39 377.22 L387.98 377.12 L388.56 377.01 L389.15 376.91 L389.73 376.81 L390.32 376.71 L390.90 376.61 L391.49 376.51 L392.07 376.41 L392.66 376.31 L393.24 376.22 L393.83 376.12 L394.41 376.03 L395.00 375.93 L395.59 375.84 L396.17 375.74 L396.76 375.65 L397.34 375.55 L397.93 375.46 L398.51 375.37 L399.10 375.27 L399.68 375.18 L400.27 375.08 L400.85 374.99 L401.44 374.89 L402.02 374.80 L402.61 374.70 L403.19 374.60 L403.78 374.50 L404.36 374.41 L404.95 374.31 L405.53 374.21 L406.12 374.10 L406.70 374.00 L407.28 373.90 L407.87 373.79 L408.45 373.68 L409.03 373.58 L409.62 373.47 L410.20 373.36 L410.78 373.25 L411.37 373.14 L411.95 373.03 L412.53 372.92 L413.11 372.81 L413.70 372.69 L414.28 372.58 L414.86 372.47 L415.44 372.36 L416.03 372.24 L416.61 372.13 L417.19 372.02 L417.77 371.91 L418.36 371.79 L418.94 371.68 L419.52 371.57 L420.10 371.46 L420.68 371.35 L421.27 371.24 L421.85 371.13 L422.43 371.02 L423.01 370.91 L423.60 370.80 L424.18 370.70 L424.76 370.59 L425.34 370.49 L425.92 370.38 L426.51 370.28 L427.09 370.18 L427.67 370.08 L428.25 369.98 L428.84 369.89 L429.42 369.79 L430.00 369.70 L430.58 369.61 L431.16 369.52 L431.75 369.43 L432.33 369.34 L432.91 369.25 L433.49 369.16 L434.08 369.07 L434.66 368.99 L435.24 368.90 L435.82 368.81 L436.40 368.73 L436.99 368.65 L437.57 368.56 L438.15 368.48 L438.73 368.40 L439.32 368.32 L439.90 368.24 L440.48 368.16 L441.06 368.08 L441.64 368.01 L442.23 367.93 L442.81 367.85 L443.39 367.78 L443.97 367.70 L444.56 367.63 L445.14 367.56 L445.72 367.48 L446.30 367.41 L446.89 367.34 L447.47 367.27 L448.05 367.20 L448.63 367.13 L449.22 367.06 L449.80 366.99 L450.38 366.93 L450.97 366.86 L451.55 366.79 L452.13 366.73 L452.72 366.66 L453.30 366.60 L453.88 366.54 L454.47 366.47 L455.05 366.41 L455.64 366.35 L456.22 366.29 L456.81 366.23 L457.39 366.17 L457.98 366.11 L458.56 366.05 L459.15 365.99 L459.73 365.93 L460.32 365.88 L460.90 365.82 L461.49 365.76 L462.07 365.71 L462.66 365.65 L463.24 365.60 L463.83 365.55 L464.41 365.50 L465.00 365.44 L465.59 365.39 L466.17 365.34 L466.76 365.29 L467.34 365.25 L467.93 365.20 L468.51 365.15" stroke="#fbf414" stroke-width="3" stroke-dasharray="0.00 2.16 8.44 7.26 8.44 7.26 8.44 7.26 8.44 7.26 8.44 7.26 8.44 7.26 8.45 7.28 8.47 7.29 8.54 2000.00"/>
<path d="M468.51 365.15 L469.10 365.11 L469.68 365.06 L470.27 365.02 L470.85 364.98 L471.44 364.93 L472.02 364.89 L472.61 364.85 L473.19 364.81 L473.78 364.78 L474.36 364.74 L474.95 364.70 L475.53 364.67 L476.12 364.63 L476.70 364.60 L477.29 364.57 L477.88 364.54 L478.47 364.50 L479.07 364.47 L479.67 364.44 L480.27 364.41 L480.88 364.38 L481.48 364.35 L482.09 364.32 L482.70 364.29 L483.31 364.26 L483.93 364.24 L484.54 364.21 L485.15 364.18 L485.77 364.16 L486.38 364.13 L486.99 364.11 L487.60 364.09 L488.21 364.07 L488.81 364.05 L489.42 364.03 L490.02 364.02 L490.62 364.00 L491.21 363.99 L491.80 363.97 L492.39 363.96 L492.97 363.95 L493.55 363.94 L494.12 363.94 L494.69 363.93 L495.25 363.93 L495.81 363.93 L496.36 363.93 L496.90 363.94 L497.44 363.94 L497.97 363.95 L498.49 363.96 L499.00 363.97 L499.50 363.98 L500.00 364.00 L500.49 364.02 L500.97 364.04 L501.45 364.06 L501.92 364.08 L502.38 364.11 L502.84 364.14 L503.29 364.16 L503.74 364.19 L504.19 364.23 L504.62 364.26 L505.06 364.29 L505.48 364.33 L505.91 364.37 L506.33 364.41 L506.74 364.45 L507.15 364.49 L507.56 364.54 L507.96 364.58 L508.36 364.63 L508.75 364.68 L509.14 364.73 L509.53 364.79 L509.91 364.84 L510.29 364.90 L510.67 364.95 L511.04 365.01 L511.41 365.07 L511.78 365.13 L512.14 365.20 L512.50 365.26 L512.86 365.33 L513.22 365.40 L513.57 365.47 L513.92 365.54 L514.27 365.61 L514.62 365.69 L514.97 365.76 L515.31 365.84 L515.66 365.92 L516.00 366.00 L516.34 366.08 L516.67 366.17 L517.00 366.25 L517.32 366.34 L517.64 366.44 L517.96 366.53 L518.26 366.63 L518.57 366.72 L518.87 366.82 L519.17 366.93 L519.46 367.03 L519.75 367.13 L520.04 367.24 L520.33 367.35 L520.61 367.46 L520.89 367.57 L521.16 367.68 L521.44 367.80 L521.71 367.91" stroke="#fbf414" stroke-width="3" stroke-dasharray="8.51 7.34 8.55 7.38 8.50 7.26 8.54 2000.00"/>
<path d="M521.71 367.91 L521.98 368.03 L522.25 368.15 L522.52 368.27 L522.78 368.39 L523.05 368.51 L523.31 368.63 L523.58 368.75 L523.84 368.87 L524.10 369.00 L524.36 369.12 L524.63 369.25 L524.89 369.37 L525.15 369.50 L525.42 369.62 L525.68 369.75 L525.95 369.87 L526.22 370.00 L526.48 370.12 L526.75 370.25 L527.03 370.37 L527.30 370.50 L527.58 370.63 L527.85 370.75 L528.13 370.88 L528.41 371.00 L528.69 371.13 L528.98 371.26 L529.26 371.39 L529.54 371.52 L529.83 371.65 L530.11 371.78 L530.40 371.91 L530.68 372.04 L530.96 372.17 L531.25 372.30 L531.53 372.44 L531.82 372.57 L532.10 372.70 L532.38 372.84 L532.66 372.98 L532.94 373.11 L533.21 373.25 L533.49 373.39 L533.76 373.53 L534.04 373.67 L534.31 373.81 L534.57 373.95 L534.84 374.09 L535.10 374.23 L535.36 374.37 L535.62 374.52 L535.87 374.66 L536.13 374.81 L536.37 374.95 L536.62 375.10 L536.86 375.25 L537.09 375.40 L537.33 375.55 L537.56 375.70 L537.78 375.85 L538.00 376.00 L538.22 376.15 L538.43 376.31 L538.64 376.46 L538.84 376.62 L539.04 376.77 L539.24 376.93 L539.44 377.08 L539.63 377.24 L539.82 377.40 L540.01 377.56 L540.19 377.72 L540.37 377.88 L540.55 378.04 L540.72 378.20 L540.90 378.37 L541.07 378.53 L541.24 378.70 L541.40 378.86 L541.57 379.03 L541.73 379.19 L541.89 379.36 L542.05 379.53 L542.21 379.70 L542.36 379.87 L542.52 380.04 L542.67 380.21 L542.82 380.38 L542.97 380.56 L543.12 380.73 L543.27 380.91 L543.41 381.08 L543.56 381.26 L543.70 381.43 L543.85 381.61 L543.99 381.79 L544.13 381.97 L544.28 382.15 L544.42 382.33 L544.56 382.52 L544.70 382.70 L544.84 382.88 L544.98 383.07 L545.12 383.26 L545.25 383.45 L545.39 383.64 L545.52 383.83 L545.65 384.02 L545.78 384.22 L545.91 384.41 L546.04 384.61 L546.17 384.81 L546.29 385.00 L546.42 385.20 L546.54 385.40 L546.66 385.60 L546.78 385.81 L546.90 386.01 L547.02 386.21 L547.13 386.41 L547.25 386.62 L547.36 386.82 L547.48 387.03 L547.59 387.23 L547.70 387.44 L547.81 387.64 L547.91 387.85 L548.02 388.05 L548.13 388.26 L548.23 388.46 L548.33 388.67 L548.43 388.87 L548.54 389.08 L548.63 389.28 L548.73 389.49 L548.83 389.69 L548.93 389.89 L549.02 390.10 L549.12 390.30 L549.21 390.50 L549.30 390.70 L549.39 390.90 L549.48 391.10 L549.57 391.31 L549.65 391.51 L549.74 391.72 L549.82 391.93 L549.91 392.14 L549.99 392.35 L550.07 392.56 L550.15 392.77 L550.23 392.99 L550.30 393.20 L550.38 393.41 L550.45 393.63 L550.53 393.84 L550.60 394.05 L550.67 394.27 L550.74 394.48 L550.81 394.69 L550.88 394.90 L550.94 395.11 L551.01 395.32 L551.07 395.52 L551.13 395.73 L551.20 395.93 L551.26 396.14 L551.32 396.34 L551.37 396.54 L551.43 396.73 L551.49 396.92 L551.54 397.12 L551.60 397.30 L551.65 397.49 L551.71 397.67 L551.76 397.85 L551.81 398.03 L551.86 398.20 L551.91 398.37 L551.95 398.54 L552.00 398.70 L552.05 398.86 L552.09 399.02 L552.13 399.18 L552.17 399.33 L552.21 399.49 L552.25 399.64 L552.29 399.79 L552.32 399.94 L552.36 400.09 L552.39 400.24 L552.43 400.38 L552.46 400.53 L552.49 400.67 L552.52 400.81 L552.54 400.95 L552.57 401.08 L552.60 401.21 L552.62 401.35 L552.65 401.47 L552.67 401.60 L552.69 401.72 L552.71 401.84 L552.73 401.96 L552.75 402.08 L552.77 402.19 L552.79 402.30 L552.81 402.41 L552.83 402.51 L552.84 402.61 L552.86 402.71 L552.88 402.81 L552.89 402.90 L552.91 402.99 L552.92 403.07 L552.93 403.15 L552.95 403.23 L552.96 403.30 L552.97 403.37 L552.99 403.44 L553.00 403.50" stroke="#fbf414" stroke-width="3" stroke-dasharray="8.56 7.34 8.55 7.35 8.54 7.29 8.55 2000.00"/>
</g>
<g fill="none" stroke="#5a5a5a">
<path d="M94.1 1.0 V403.8 H597.8" stroke-width="1.7"/>
<path d="M94.1 1.5 H597.3 V403.8" stroke-width="1.1" stroke="#333"/>
<path d="M155.43 403.8 v-2.2 M155.43 1.5 v2.2 M191.22 403.8 v-2.2 M191.22 1.5 v2.2 M216.62 403.8 v-2.2 M216.62 1.5 v2.2 M236.32 403.8 v-2.2 M236.32 1.5 v2.2 M252.41 403.8 v-2.2 M252.41 1.5 v2.2 M266.02 403.8 v-2.2 M266.02 1.5 v2.2 M277.80 403.8 v-2.2 M277.80 1.5 v2.2 M288.20 403.8 v-2.2 M288.20 1.5 v2.2 M297.50 403.8 v-4.3 M297.50 1.5 v4.3 M358.68 403.8 v-2.2 M358.68 1.5 v2.2 M394.47 403.8 v-2.2 M394.47 1.5 v2.2 M419.87 403.8 v-2.2 M419.87 1.5 v2.2 M439.57 403.8 v-2.2 M439.57 1.5 v2.2 M455.66 403.8 v-2.2 M455.66 1.5 v2.2 M469.27 403.8 v-2.2 M469.27 1.5 v2.2 M481.05 403.8 v-2.2 M481.05 1.5 v2.2 M491.45 403.8 v-2.2 M491.45 1.5 v2.2 M500.75 403.8 v-4.3 M500.75 1.5 v4.3 M561.93 403.8 v-2.2 M561.93 1.5 v2.2 M94.1 296.52 h4.8 M597.3 296.52 h-4.8 M94.1 162.42 h4.8 M597.3 162.42 h-4.8 M94.1 28.32 h4.8 M597.3 28.32 h-4.8" stroke-width="1" stroke="#333"/>
</g>
<rect x="451.3" y="12.5" width="118.0" height="227.8" fill="#fff" stroke="#333" stroke-width="1.1"/>
<path d="M459.2 28.4 H498.4" stroke="#000" stroke-width="2.5" fill="none"/>
<path d="M459.2 56.5 H498.4" stroke="#0000cc" stroke-width="2.5" fill="none"/>
<path d="M459.2 84.5 H498.4" stroke="#00ee00" stroke-width="2.5" fill="none"/>
<path d="M459.2 112.6 H498.4" stroke="#ee00ee" stroke-width="2.5" fill="none"/>
<path d="M459.2 140.7 H498.4" stroke="#00eeee" stroke-width="2.5" fill="none"/>
<path d="M459.2 168.8 H498.4" stroke="#fbf414" stroke-width="2.5" fill="none" stroke-dasharray="1.5 4.3 8.7 4.3"/>
<path d="M459.2 196.8 H498.4" stroke="#fbf414" stroke-width="2.5" fill="none"/>
<path d="M459.2 224.9 H498.4" stroke="#ee0000" stroke-width="2.5" fill="none"/>
<g fill="#000" stroke="#000" stroke-width="0.3" style="text-rendering:geometricPrecision">
<text x="502.80" y="35.70" font-size="21.00" font-weight="normal" font-family="'Liberation Sans'" text-anchor="start">pp</text>
<text x="502.80" y="63.77" font-size="21.00" font-weight="normal" font-family="'Liberation Sans'" text-anchor="start">8B</text>
<path transform="translate(502.80,91.84) scale(0.01025,-0.01025)" d="M763 0H583V1147Q518 1085 412.5 1023T223 930V1104Q373 1174.5 485.5 1275T645 1470H763Z" stroke-width="29.3"/>
<text x="514.48" y="91.84" font-size="21.00" font-weight="normal" font-family="'Liberation Sans'" text-anchor="start">3N</text>
<path transform="translate(502.80,119.91) scale(0.01025,-0.01025)" d="M763 0H583V1147Q518 1085 412.5 1023T223 930V1104Q373 1174.5 485.5 1275T645 1470H763Z" stroke-width="29.3"/>
<text x="514.48" y="119.91" font-size="21.00" font-weight="normal" font-family="'Liberation Sans'" text-anchor="start">5O</text>
<path transform="translate(502.80,147.98) scale(0.01025,-0.01025)" d="M763 0H583V1147Q518 1085 412.5 1023T223 930V1104Q373 1174.5 485.5 1275T645 1470H763Z" stroke-width="29.3"/>
<text x="514.48" y="147.98" font-size="21.00" font-weight="normal" font-family="'Liberation Sans'" text-anchor="start">7F</text>
<text x="502.80" y="176.05" font-size="21.00" font-weight="normal" font-family="'Liberation Sans'" text-anchor="start">Hep</text>
<text x="502.80" y="204.12" font-size="21.00" font-weight="normal" font-family="'Liberation Sans'" text-anchor="start">pep(*)</text>
<text x="502.80" y="232.19" font-size="21.00" font-weight="normal" font-family="'Liberation Sans'" text-anchor="start">7Be(*)</text>
<path transform="translate(74.45,434.00) scale(0.01025,-0.01025)" d="M763 0H583V1147Q518 1085 412.5 1023T223 930V1104Q373 1174.5 485.5 1275T645 1470H763Z" stroke-width="29.3"/>
<text x="86.13" y="434.00" font-size="21.00" font-weight="normal" font-family="'Liberation Sans'" text-anchor="start">0</text>
<text x="97.85" y="421.00" font-size="14.00" font-weight="normal" font-family="'Liberation Sans'" text-anchor="start">−</text>
<path transform="translate(106.03,421.00) scale(0.00684,-0.00684)" d="M763 0H583V1147Q518 1085 412.5 1023T223 930V1104Q373 1174.5 485.5 1275T645 1470H763Z" stroke-width="43.9"/>
<path transform="translate(281.30,434.00) scale(0.01025,-0.01025)" d="M763 0H583V1147Q518 1085 412.5 1023T223 930V1104Q373 1174.5 485.5 1275T645 1470H763Z" stroke-width="29.3"/>
<text x="292.98" y="434.00" font-size="21.00" font-weight="normal" font-family="'Liberation Sans'" text-anchor="start">0</text>
<text x="304.70" y="421.00" font-size="14.00" font-weight="normal" font-family="'Liberation Sans'" text-anchor="start">0</text>
<path transform="translate(484.55,434.00) scale(0.01025,-0.01025)" d="M763 0H583V1147Q518 1085 412.5 1023T223 930V1104Q373 1174.5 485.5 1275T645 1470H763Z" stroke-width="29.3"/>
<text x="496.23" y="434.00" font-size="21.00" font-weight="normal" font-family="'Liberation Sans'" text-anchor="start">0</text>
<path transform="translate(507.95,421.00) scale(0.00684,-0.00684)" d="M763 0H583V1147Q518 1085 412.5 1023T223 930V1104Q373 1174.5 485.5 1275T645 1470H763Z" stroke-width="43.9"/>
<path transform="translate(52.15,304.32) scale(0.01025,-0.01025)" d="M763 0H583V1147Q518 1085 412.5 1023T223 930V1104Q373 1174.5 485.5 1275T645 1470H763Z" stroke-width="29.3"/>
<text x="63.82" y="304.32" font-size="21.00" font-weight="normal" font-family="'Liberation Sans'" text-anchor="start">0</text>
<text x="75.60" y="291.52" font-size="14.00" font-weight="normal" font-family="'Liberation Sans'" text-anchor="start">5</text>
<path transform="translate(52.15,170.22) scale(0.01025,-0.01025)" d="M763 0H583V1147Q518 1085 412.5 1023T223 930V1104Q373 1174.5 485.5 1275T645 1470H763Z" stroke-width="29.3"/>
<text x="63.82" y="170.22" font-size="21.00" font-weight="normal" font-family="'Liberation Sans'" text-anchor="start">0</text>
<path transform="translate(75.60,157.42) scale(0.00684,-0.00684)" d="M763 0H583V1147Q518 1085 412.5 1023T223 930V1104Q373 1174.5 485.5 1275T645 1470H763Z" stroke-width="43.9"/>
<text x="83.38" y="157.42" font-size="14.00" font-weight="normal" font-family="'Liberation Sans'" text-anchor="start">0</text>
<path transform="translate(52.15,36.12) scale(0.01025,-0.01025)" d="M763 0H583V1147Q518 1085 412.5 1023T223 930V1104Q373 1174.5 485.5 1275T645 1470H763Z" stroke-width="29.3"/>
<text x="63.82" y="36.12" font-size="21.00" font-weight="normal" font-family="'Liberation Sans'" text-anchor="start">0</text>
<path transform="translate(75.60,23.32) scale(0.00684,-0.00684)" d="M763 0H583V1147Q518 1085 412.5 1023T223 930V1104Q373 1174.5 485.5 1275T645 1470H763Z" stroke-width="43.9"/>
<text x="83.38" y="23.32" font-size="14.00" font-weight="normal" font-family="'Liberation Sans'" text-anchor="start">5</text>
<text x="264.80" y="458.90" font-size="22.30" font-weight="bold" font-family="'Liberation Sans'" text-anchor="start">Energy (MeV)</text>
<g transform="translate(26.6,294) rotate(-90)">
<text x="1.20" y="0.00" font-size="23.50" font-weight="normal" font-family="'Liberation Serif'" text-anchor="start">Φ</text>
<text x="25.00" y="0.00" font-size="22.30" font-weight="bold" font-family="'Liberation Sans'" text-anchor="start">(E</text>
<text x="47.00" y="11.00" font-size="18.00" font-weight="normal" font-family="'Liberation Sans'" text-anchor="start">ν</text>
<text x="56.00" y="0.00" font-size="22.30" font-weight="bold" font-family="'Liberation Sans'" text-anchor="start">)</text>
<text x="82.00" y="0.00" font-size="22.30" font-weight="bold" font-family="'Liberation Sans'" text-anchor="start">[cm</text>
<text x="122.30" y="-11.80" font-size="17.00" font-weight="bold" font-family="'Liberation Sans'" text-anchor="start">−2</text>
<text x="148.00" y="0.00" font-size="22.30" font-weight="bold" font-family="'Liberation Sans'" text-anchor="start">s</text>
<text x="160.00" y="-11.80" font-size="17.00" font-weight="bold" font-family="'Liberation Sans'" text-anchor="start">−</text>
<path transform="translate(169.93,-11.80) scale(0.00830,-0.00830)" d="M806 0H525V1059Q371 915 162 846V1101Q272 1137 401 1237.5T578 1472H806Z" stroke-width="36.1"/>
<text x="179.50" y="0.00" font-size="22.30" font-weight="bold" font-family="'Liberation Sans'" text-anchor="start">]</text>
</g>
</g>
</svg>
</body></html>
